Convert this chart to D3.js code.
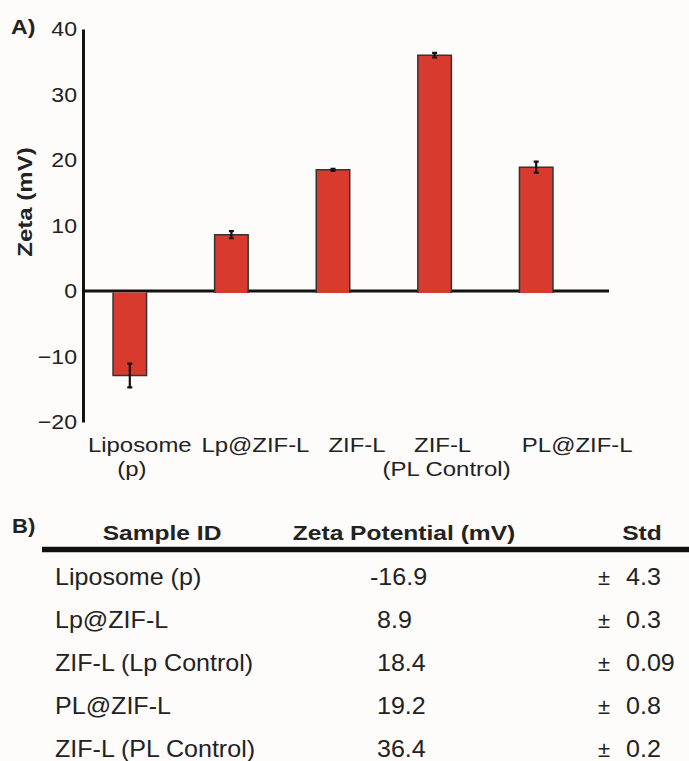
<!DOCTYPE html>
<html>
<head>
<meta charset="utf-8">
<script src="https://cdn.jsdelivr.net/npm/d3@7"></script>
<style>
  body { margin: 0; background: #fdfcfb; }
  svg text { font-family: "Liberation Sans", Arial, sans-serif; fill: #222; }
</style>
</head>
<body>
<div id="chart"></div>
<script>
// chart data (panel A)
var categories = ["Liposome (p)", "Lp@ZIF-L", "ZIF-L", "ZIF-L (PL Control)", "PL@ZIF-L"];
var labelLines = [["Liposome", "(p)"], ["Lp@ZIF-L"], ["ZIF-L"], ["ZIF-L", "(PL Control)"], ["PL@ZIF-L"]];
var zetaValues = [-12.9, 8.6, 18.5, 36.0, 18.9];
var zetaErrors = [1.8, 0.55, 0.15, 0.35, 0.85];
var yTicks = [-20, -10, 0, 10, 20, 30, 40];

// table data (panel B)
var tableHeaders = ["Sample ID", "Zeta Potential (mV)", "Std"];
var tableSamples = ["Liposome (p)", "Lp@ZIF-L", "ZIF-L (Lp Control)", "PL@ZIF-L", "ZIF-L (PL Control)"];
var tableZeta = ["-16.9", "8.9", "18.4", "19.2", "36.4"];
var tableStd = ["4.3", "0.3", "0.09", "0.8", "0.2"];

// label offsets from bar centre (line 1, line 2) - hand placed in the original
var labelShift = [[10, 2], [24], [24], [8, 12], [41]];

var W = 689, H = 761;
var svg = d3.select("#chart").append("svg")
  .attr("width", W)
  .attr("height", H);

var x = d3.scaleBand()
  .domain(categories)
  .range([79, 587])
  .paddingInner(0.67)
  .paddingOuter(0.335);

var y = d3.scaleLinear()
  .domain([-20, 40])
  .range([422, 29]);

var axisX = 83, y0 = y(0);

// stretched text helper
function txt(g, s, tx, ty, size, sx, anchor, weight) {
  return g.append("text")
    .attr("transform", "translate(" + tx + "," + ty + ") scale(" + sx + ",1)")
    .attr("text-anchor", anchor || "start")
    .style("font-size", size + "px")
    .style("font-weight", weight || "normal")
    .text(s);
}

// panel label
txt(svg, "A)", 11, 34, 21, 1.1, "start", "bold");

// y axis
var yAxis = d3.axisLeft(y).tickValues(yTicks).tickSize(0).tickPadding(6);
var ga = svg.append("g")
  .attr("transform", "translate(" + axisX + ",0)")
  .call(yAxis);
ga.select(".domain").attr("stroke", "#111").attr("stroke-width", 3);
ga.selectAll(".tick text")
  .attr("x", null)
  .attr("transform", "translate(-6,0) scale(1.1,1)")
  .attr("text-anchor", "end")
  .style("font-size", "21px")
  .attr("fill", "#222");

svg.append("text")
  .attr("transform", "translate(31.5,202) rotate(-90) scale(1.2,1)")
  .attr("text-anchor", "middle")
  .style("font-size", "20px")
  .style("font-weight", "bold")
  .text("Zeta (mV)");

// zero line
svg.append("line")
  .attr("x1", axisX).attr("x2", 609)
  .attr("y1", y0).attr("y2", y0)
  .attr("stroke", "#111").attr("stroke-width", 3);

// bars
var bw = x.bandwidth();
var bars = svg.selectAll(".bar")
  .data(zetaValues)
  .enter().append("g")
  .attr("class", "bar");

bars.append("rect")
  .attr("x", function(d, i) { return x(categories[i]); })
  .attr("width", bw)
  .attr("y", function(d) { return d >= 0 ? y(d) : y0 + 1.5; })
  .attr("height", function(d) { return d >= 0 ? y0 + 2 - y(d) : y(d) - y0 - 1.5; })
  .attr("fill", "#d83a2e");

bars.append("path")
  .attr("d", function(d, i) {
    var bx = x(categories[i]), base = d >= 0 ? y0 + 2 : y0 + 1.5;
    return "M" + bx + "," + base + "V" + y(d) + "H" + (bx + bw) + "V" + base;
  })
  .attr("fill", "none")
  .attr("stroke", "#333")
  .attr("stroke-width", 1.5);

// error bars
bars.append("path")
  .attr("d", function(d, i) {
    var cx = x(categories[i]) + bw / 2, e = zetaErrors[i];
    var t = y(d + e), b = y(d - e);
    return "M" + cx + "," + t + "V" + b +
      "M" + (cx - 2.5) + "," + t + "H" + (cx + 2.5) +
      "M" + (cx - 2.5) + "," + b + "H" + (cx + 2.5);
  })
  .attr("fill", "none")
  .attr("stroke", "#111")
  .attr("stroke-width", 2.2);

// category labels
var lineY = [451.5, 476];
labelLines.forEach(function(lines, i) {
  var cx = x(categories[i]) + bw / 2;
  lines.forEach(function(s, j) {
    txt(svg, s, cx + labelShift[i][j], lineY[j], 21, 1.14, "middle");
  });
});

// panel B table
txt(svg, "B)", 12, 533, 21, 1.05, "start", "bold");

var headX = [162, 404, 642];
tableHeaders.forEach(function(h, i) {
  txt(svg, h, headX[i], 540, 21, 1.17, "middle", "bold");
});

svg.append("line")
  .attr("x1", 42).attr("x2", W)
  .attr("y1", 549.5).attr("y2", 549.5)
  .attr("stroke", "#111").attr("stroke-width", 5.5);

var rowY = d3.scalePoint()
  .domain(tableSamples)
  .range([585, 757]);

tableSamples.forEach(function(s, i) {
  var ry = rowY(s);
  txt(svg, s, 55, ry, 23, 1.09, "start");
  var v = tableZeta[i];
  txt(svg, v, v.charAt(0) === "-" ? 370 : 377, ry, 23, 1.09, "start");
  txt(svg, "\u00b1", 598, ry, 22, 1.0, "start");
  txt(svg, tableStd[i], 626, ry, 23, 1.09, "start");
});
</script>
</body>
</html>
